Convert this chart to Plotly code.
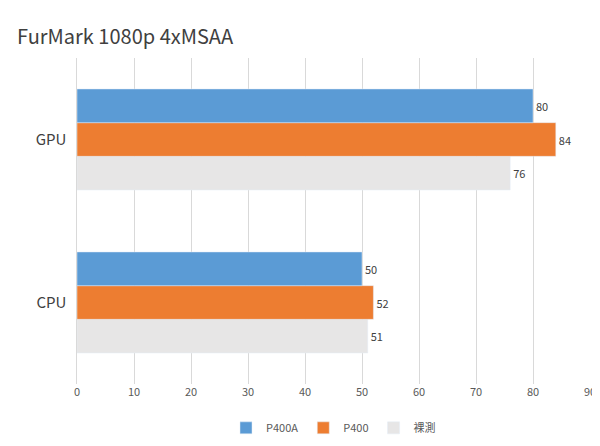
import plotly.graph_objects as go

categories = ["CPU", "GPU"]
series_names = ["P400A", "P400", "裸測"]
p400a = [50, 80]
p400 = [52, 84]
bare = [51, 76]
colors = {"P400A": "#5B9BD5", "P400": "#ED7D31", "裸測": "#E7E6E6"}

fig = go.Figure()
for name, vals in [("裸測", bare), ("P400", p400), ("P400A", p400a)]:
    fig.add_trace(go.Bar(y=categories, x=vals, orientation="h", name=name,
                         marker_color=colors[name], text=vals, textposition="outside",
                         textfont=dict(size=11, color="#404040"), cliponaxis=False))

fig.update_layout(
    width=600, height=446, barmode="group", bargap=0.38, bargroupgap=0,
    plot_bgcolor="white", paper_bgcolor="white",
    font=dict(family="Noto Sans CJK TC, Noto Sans", color="#595959"),
    title=dict(text="FurMark 1080p 4xMSAA", x=0.015, y=0.95, xanchor="left",
               font=dict(size=20, color="#404040")),
    margin=dict(l=69, r=18, t=50, b=56),
    xaxis=dict(range=[0, 90], dtick=10, showgrid=True, gridcolor="#D9D9D9",
               zeroline=False, tickfont=dict(size=11), showline=False),
    yaxis=dict(tickfont=dict(size=15, color="#404040"), ticksuffix="  ",
               showline=True, linecolor="#D9D9D9"),
    legend=dict(orientation="h", x=0.5, xanchor="center", y=-0.09, yanchor="top",
                traceorder="reversed", font=dict(size=11)),
)
fig.write_html("out.html")
